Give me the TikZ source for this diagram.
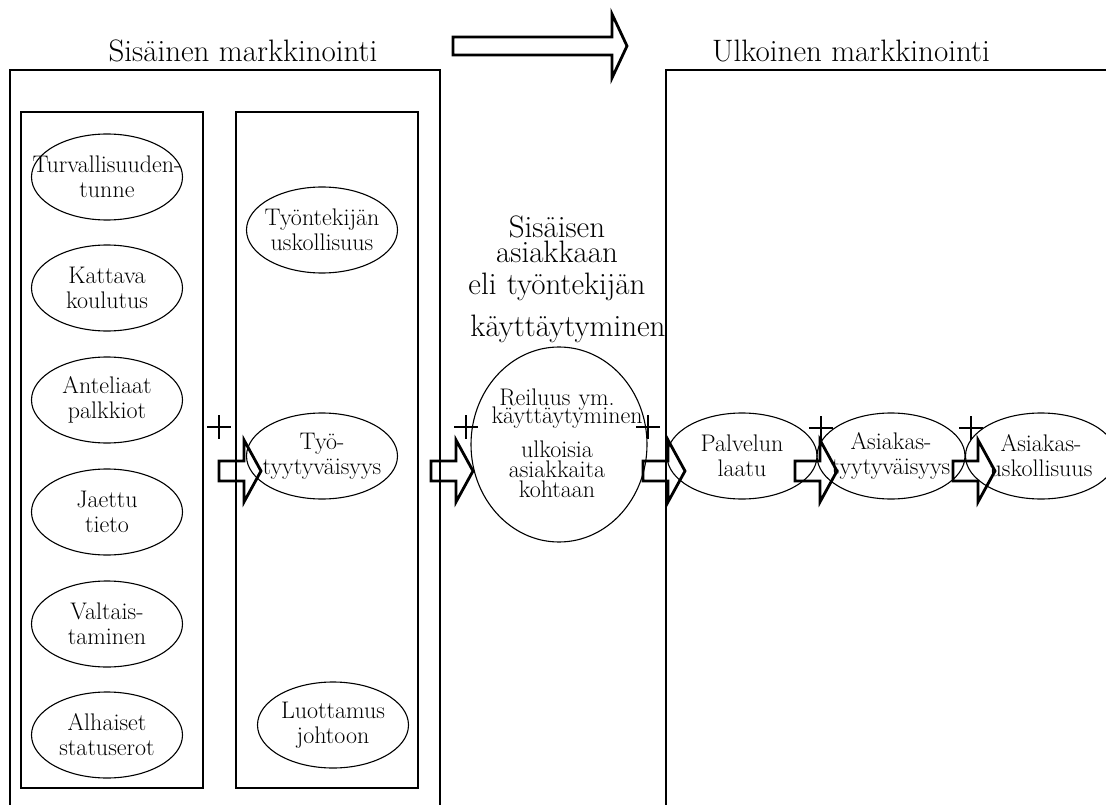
\documentclass[tikz,border=0pt]{standalone}
\usetikzlibrary{shapes.geometric}
% an outlined ellipse of fixed size with its label set on top of it
\newcommand\ovalnode[4][151]{%
  \node[oval,minimum width=#1pt] (#2) at (#3) {};
  \node[ovaltext] (#2-t) at (#2) {#4};}
\begin{document}
\begin{tikzpicture}[x=1pt,y=-1pt,
  frame/.style={line width=1.3pt},
  oval/.style={draw,ellipse,line width=1.1pt,minimum height=86pt,inner sep=0pt},
  ovaltext/.style={inner sep=0pt,align=center,font=\fontsize{24}{25}\selectfont},
  heading/.style={anchor=base,inner sep=0pt,font=\fontsize{31}{34}\selectfont},
  block/.style={anchor=base,inner sep=0pt,text width=240pt,align=center},
  blockline/.style={line width=2.8pt,line join=miter},
  plusline/.style={line width=2.7pt},
  blockarrow/.pic={\draw[blockline] (-42,-10) -- (-17,-10) -- (-17,-31) -- (0,0)
      -- (-17,31) -- (-17,10) -- (-42,10) -- cycle;},
  plussign/.pic={\draw[plusline] (-12,0) -- (12,0) (0,-12) -- (0,12);},
]
\useasboundingbox (0,0) rectangle (1106,805);
\clip (0,0) rectangle (1106,805);

% headings
\node[heading] (hin) at (243,62) {Sisäinen markkinointi};
\node[heading] (hout) at (851,62) {Ulkoinen markkinointi};

% big direction arrow between the two halves
\draw[blockline] (453,37) -- (612,37) -- (612,14) -- (627,46) -- (612,78)
  -- (612,55) -- (453,55) -- cycle;

% frames
\draw[frame] (10,815) -- (10,70) -- (440,70) -- (440,815);
\draw[frame] (666,815) -- (666,70) -- (1115,70);
\draw[frame] (21,112) rectangle (203,788);
\draw[frame] (236,112) rectangle (418,788);

% drivers of internal marketing
\ovalnode{e1}{107,177}{Turvallisuuden-\\tunne}
\ovalnode{e2}{107,288}{Kattava\\koulutus}
\ovalnode{e3}{107,400}{Anteliaat\\palkkiot}
\ovalnode{e4}{107,512}{Jaettu\\tieto}
\ovalnode{e5}{107,624}{Valtais-\\taminen}
\ovalnode{e6}{107,735}{Alhaiset\\statuserot}

% employee outcomes
\ovalnode{f1}{322,230}{Työntekijän\\uskollisuus}
\ovalnode{f2}{322,456}{Työ-\\tyytyväisyys}
\ovalnode{f3}{333,725}{Luottamus\\johtoon}

% internal customer behaviour
\node[block,font=\fontsize{31}{25}\selectfont] (mt) at (557,237)
  {\lineskiplimit=-100pt\relax
   Sisäisen\\asiakkaan\\[8pt]eli työntekijän\\[13pt]\hspace*{22pt}käyttäytyminen};
\node[draw,ellipse,line width=1.1pt,minimum width=176pt,minimum height=195pt,inner sep=0pt]
  (mc) at (559,444.5) {};
\node[block,font=\fontsize{24}{20}\selectfont] (mct) at (557,405)
  {\lineskiplimit=-100pt\relax
   Reiluus ym.\\[-2pt]\hspace*{20pt}käyttäytyminen\\[14pt]ulkoisia\\asiakkaita\\kohtaan};

% external chain
\ovalnode[150]{g1}{742,456}{Palvelun\\laatu}
\ovalnode[148]{g2}{891,456}{Asiakas-\\tyytyväisyys}
\ovalnode{g3}{1041,456}{Asiakas-\\uskollisuus}

% positive links
\coordinate (p1) at (219,427);
\coordinate (p2) at (466,427);
\coordinate (p3) at (648,427);
\coordinate (p4) at (821,428);
\coordinate (p5) at (971,428);
\foreach \p in {p1,p2,p3,p4,p5} \pic at (\p) {plussign};

\coordinate (a1) at (261,471);
\coordinate (a2) at (473,471);
\coordinate (a3) at (685,471);
\coordinate (a4) at (837,471);
\coordinate (a5) at (995,471);
\foreach \a in {a1,a2,a3,a4,a5} \pic at (\a) {blockarrow};
\end{tikzpicture}
\end{document}
